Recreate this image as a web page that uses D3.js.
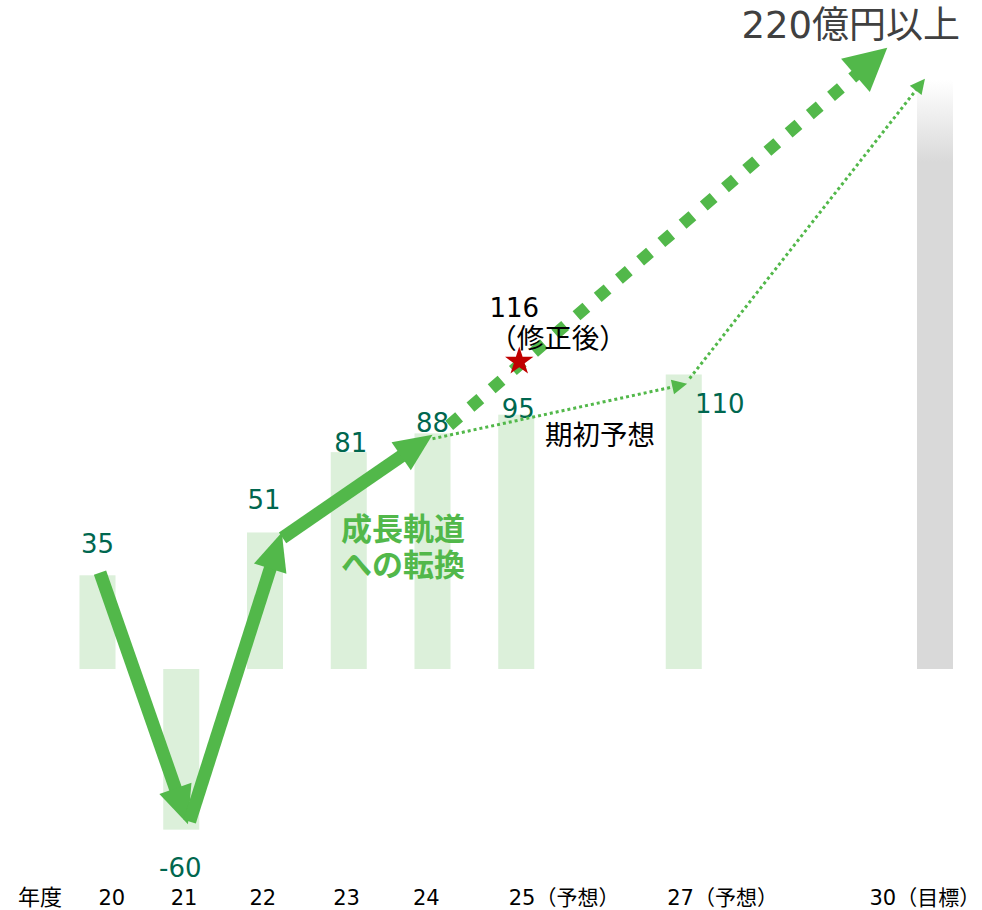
<!DOCTYPE html>
<html>
<head>
<meta charset="utf-8">
<script src="https://cdn.jsdelivr.net/npm/d3@7"></script>
<style>
  body { margin: 0; background: #fff; }
  svg text { font-family: "DejaVu Sans", "Noto Sans CJK JP", sans-serif; }
</style>
</head>
<body>
<div id="chart"></div>
<script>
// fiscal years and results (億円)
var years = [20, 21, 22, 23, 24, 25, 27, 30];
var tickLabels = ["20", "21", "22", "23", "24", "25（予想）", "27（予想）", "30（目標）"];
var values = [35, -60, 51, 81, 88, 95, 110, 220];
var valueLabels = ["35", "-60", "51", "81", "88", "95", "110", ""];

// revised forecast for 25
var revisedYear = 25, revisedValue = 116;

// arrows, given as [year, value] pairs
var trendArrows = [
  [[20.03, 36], [21.08, -58]],
  [[21.1, -57], [22.2, 51]],
  [[22.21, 49], [24.0, 87.5]]
];
var revisedArrow = [[24.2, 91], [29.43, 232]];
var initialArrows = [
  [[24.0, 86], [27.04, 106.5]],
  [[27.07, 108.5], [29.88, 220.5]]
];

// layout tweaks for labels (px)
var labelShift = [[0, -22], [-1, 47], [-1, -23], [2, 0], [0, -1], [2, 3], [36, 38]];
var tickShift = [0.5, -11, -16, -16, -20, -8, -17, -66];

var W = 982, H = 910;
var green = "#52b84a", barGreen = "#dcf0da", valColor = "#00674f";

var svg = d3.select("#chart").append("svg")
  .attr("width", W).attr("height", H);

var x = d3.scaleLinear().domain([20, 30]).range([97.5, 935]);
var y = d3.scaleLinear().domain([0, 220]).range([669, 80]);
var barW = 36;

var defs = svg.append("defs");
var grad = defs.append("linearGradient").attr("id", "goalGrad")
  .attr("x1", 0).attr("y1", 0).attr("x2", 0).attr("y2", 1);
grad.append("stop").attr("offset", "0%").attr("stop-color", "#ffffff");
grad.append("stop").attr("offset", "14%").attr("stop-color", "#d9d9d9");
grad.append("stop").attr("offset", "100%").attr("stop-color", "#d9d9d9");

// bars
var data = years.map(function(yr, i) { return { year: yr, v: values[i], lab: valueLabels[i], i: i }; });
svg.append("g").selectAll("rect")
  .data(data)
  .enter()
  .append("rect")
    .attr("x", function(d) { return x(d.year) - barW / 2; })
    .attr("y", function(d) { return y(Math.max(0, d.v)); })
    .attr("width", barW)
    .attr("height", function(d) { return Math.abs(y(d.v) - y(0)); })
    .attr("fill", function(d) { return d.year === 30 ? "url(#goalGrad)" : barGreen; });

// value labels
svg.append("g").selectAll("text")
  .data(data.filter(function(d) { return d.lab; }))
  .enter()
  .append("text")
    .attr("x", function(d) { return x(d.year) + labelShift[d.i][0]; })
    .attr("y", function(d) { return y(d.v) + labelShift[d.i][1]; })
    .attr("text-anchor", "middle")
    .attr("font-size", 26)
    .attr("fill", valColor)
    .text(function(d) { return d.lab; });

// arrow helper: shaft + triangular head
function arrow(g, pts, o) {
  var p0 = [x(pts[0][0]), y(pts[0][1])], p1 = [x(pts[1][0]), y(pts[1][1])];
  var dx = p1[0] - p0[0], dy = p1[1] - p0[1], len = Math.sqrt(dx * dx + dy * dy);
  var ux = dx / len, uy = dy / len, nx = -uy, ny = ux;
  var b = [p1[0] - ux * o.headLen, p1[1] - uy * o.headLen];
  g.append("line")
    .attr("x1", p0[0]).attr("y1", p0[1])
    .attr("x2", b[0] + ux * 2).attr("y2", b[1] + uy * 2)
    .attr("stroke", green)
    .attr("stroke-width", o.width)
    .attr("stroke-dasharray", o.dash || null);
  g.append("polygon")
    .attr("points", [
      p1,
      [b[0] + nx * o.headW / 2, b[1] + ny * o.headW / 2],
      [b[0] - nx * o.headW / 2, b[1] - ny * o.headW / 2]
    ].map(function(p) { return p.join(","); }).join(" "))
    .attr("fill", green);
}

var ga = svg.append("g");
initialArrows.forEach(function(a) { arrow(ga, a, { width: 3, headLen: 15, headW: 15, dash: "3,3" }); });
trendArrows.forEach(function(a) { arrow(ga, a, { width: 13, headLen: 38, headW: 34 }); });
arrow(ga, revisedArrow, { width: 12, headLen: 42, headW: 44, dash: "13,15" });

// revised point
svg.append("path")
  .attr("d", d3.symbol().type(d3.symbolStar).size(250))
  .attr("transform", "translate(" + (x(revisedYear) + 3) + "," + (y(revisedValue) + 3) + ")")
  .attr("fill", "#c00000");

// annotations
svg.append("text").attr("x", x(revisedYear) - 2).attr("y", 317)
  .attr("text-anchor", "middle").attr("font-size", 26).attr("fill", "#000")
  .text(revisedValue);
svg.append("text").attr("x", 558).attr("y", 348)
  .attr("text-anchor", "middle").attr("font-size", 27.5).attr("fill", "#000")
  .text("（修正後）");
svg.append("text").attr("x", 545).attr("y", 445)
  .attr("font-size", 27.5).attr("fill", "#000")
  .text("期初予想");
svg.append("text").attr("x", 960).attr("y", 38)
  .attr("text-anchor", "end").attr("font-size", 37).attr("fill", "#404040")
  .text("220億円以上");
svg.append("text").attr("x", 341).attr("y", 540)
  .attr("font-size", 31).attr("font-weight", "bold").attr("fill", green)
  .text("成長軌道");
svg.append("text").attr("x", 341).attr("y", 576)
  .attr("font-size", 31).attr("font-weight", "bold").attr("fill", green)
  .text("への転換");

// x axis labels
var xAxis = svg.append("g")
  .call(d3.axisBottom(x).tickValues(years).tickSize(0)
    .tickFormat(function(d, i) { return tickLabels[i]; }));
xAxis.select(".domain").remove();
xAxis.selectAll("text")
  .attr("text-anchor", "start")
  .attr("y", 905).attr("dy", null)
  .attr("dx", function(d, i) { return tickShift[i]; })
  .attr("font-size", 21)
  .attr("font-family", null)
  .attr("fill", "#000");
svg.append("text").attr("x", 18).attr("y", 905)
  .attr("font-size", 22).attr("fill", "#000").text("年度");
</script>
</body>
</html>
